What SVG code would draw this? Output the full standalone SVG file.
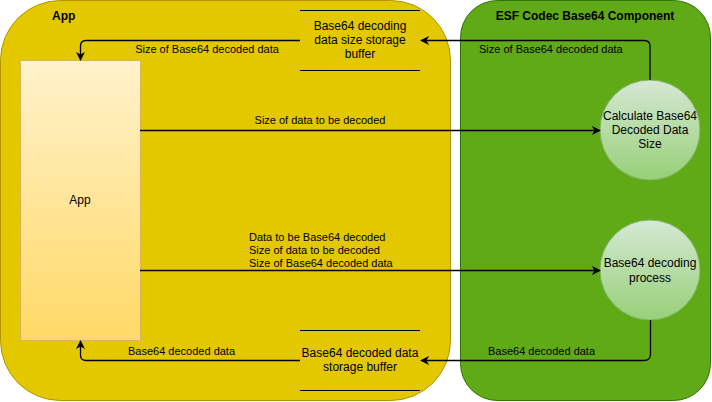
<svg xmlns="http://www.w3.org/2000/svg" width="712" height="402" viewBox="0 0 712 402">
<defs>
<linearGradient id="gApp" x1="0" y1="0" x2="0" y2="1"><stop offset="0" stop-color="#fff2cc"/><stop offset="1" stop-color="#ffd966"/></linearGradient>
<linearGradient id="gCirc" x1="0" y1="0" x2="0" y2="1"><stop offset="0" stop-color="#d5e8d4"/><stop offset="1" stop-color="#97d077"/></linearGradient>
<marker id="arr" viewBox="0 0 10 10" refX="9" refY="5" markerWidth="9" markerHeight="9" markerUnits="userSpaceOnUse" orient="auto">
<path d="M0,0 L10,5 L0,10 L3,5 Z" fill="#000"/>
</marker>
</defs>
<style>
text{font-family:"Liberation Sans",Arial,sans-serif;fill:#000}
.t{font-size:12px;text-anchor:middle}
.title{font-size:12px;font-weight:bold}
.lbl{font-size:11px}
.edge{fill:none;stroke:#000;stroke-width:1.3;marker-end:url(#arr)}
.buf{stroke:#000;stroke-width:1}
</style>
<g id="container-app">
<rect x="0.5" y="0.5" width="450" height="400" rx="60" ry="60" fill="#e3c800" stroke="#b09500"/>
<text class="title" x="52" y="20">App</text>
</g>
<g id="container-esf">
<rect x="460.5" y="0.5" width="250" height="400" rx="37" ry="37" fill="#60a917" stroke="#2d7600"/>
<text class="title" x="585" y="20" text-anchor="middle">ESF Codec Base64 Component</text>
</g>
<g id="node-app">
<rect x="20.5" y="60.5" width="120" height="280" fill="url(#gApp)" stroke="#d6b656"/>
<text class="t" x="80" y="204">App</text>
</g>
<g id="buffer-size">
<line class="buf" x1="300" y1="10.5" x2="420" y2="10.5"/>
<line class="buf" x1="300" y1="70.5" x2="420" y2="70.5"/>
<text class="t" x="360" y="30">Base64 decoding</text>
<text class="t" x="360" y="44">data size storage</text>
<text class="t" x="360" y="58">buffer</text>
</g>
<g id="buffer-data">
<line class="buf" x1="300" y1="330.5" x2="420" y2="330.5"/>
<line class="buf" x1="300" y1="390.5" x2="420" y2="390.5"/>
<text class="t" x="360" y="357">Base64 decoded data</text>
<text class="t" x="360" y="371">storage buffer</text>
</g>
<g id="circle-calc">
<circle cx="650" cy="130" r="50" fill="url(#gCirc)" stroke="#82b366"/>
<text class="t" x="650" y="120">Calculate Base64</text>
<text class="t" x="650" y="134">Decoded Data</text>
<text class="t" x="650" y="148">Size</text>
</g>
<g id="circle-decode">
<circle cx="650" cy="270" r="50" fill="url(#gCirc)" stroke="#82b366"/>
<text class="t" x="650" y="267">Base64 decoding</text>
<text class="t" x="650" y="282">process</text>
</g>
<g id="connectors">
<path class="edge" d="M650,80 V46 Q650,40.5 644,40.5 H421"/>
<path class="edge" d="M300,40.5 H86 Q80.5,40.5 80.5,46 V60"/>
<path class="edge" d="M140,130.5 H600"/>
<path class="edge" d="M140,270.5 H600"/>
<path class="edge" d="M650.5,320 V354 Q650.5,360.5 644,360.5 H421"/>
<path class="edge" d="M300,360.5 H86 Q80.5,360.5 80.5,355 V341"/>
<text class="lbl" x="479" y="53">Size of Base64 decoded data</text>
<text class="lbl" x="207" y="53" text-anchor="middle">Size of Base64 decoded data</text>
<text class="lbl" x="320" y="124" text-anchor="middle">Size of data to be decoded</text>
<text class="lbl" x="249" y="241">Data to be Base64 decoded</text>
<text class="lbl" x="249" y="254">Size of data to be decoded</text>
<text class="lbl" x="249" y="267">Size of Base64 decoded data</text>
<text class="lbl" x="488" y="355">Base64 decoded data</text>
<text class="lbl" x="128" y="355">Base64 decoded data</text>
</g>
</svg>
